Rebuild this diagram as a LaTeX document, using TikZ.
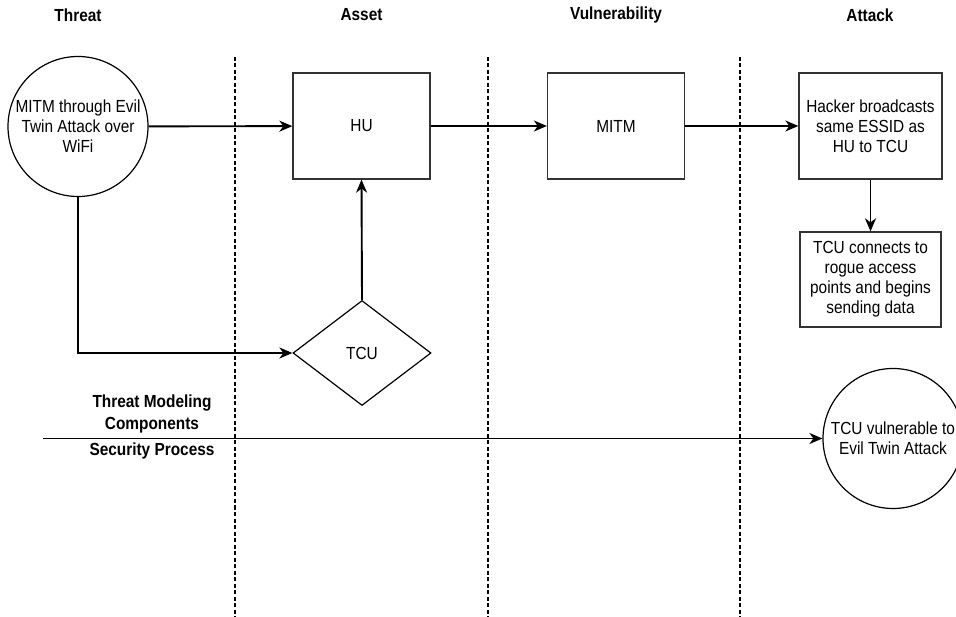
\documentclass[tikz,border=0pt]{standalone}
\usepackage{fontspec}
\setmainfont[FakeStretch=0.88]{Liberation Sans}
\usetikzlibrary{arrows.meta,shapes.geometric}

\begin{document}
\begin{tikzpicture}[x=1pt,y=-1pt,
  font=\fontsize{17.5}{20}\selectfont,
  every node/.style={align=center, inner sep=0pt},
  procbox/.style={draw=black!80, line width=1.3pt, minimum width=137pt, minimum height=106pt},
  roundnode/.style={draw, circle, line width=1.2pt, minimum size=140pt},
  decision/.style={draw, diamond, line width=1.2pt, minimum width=138pt, minimum height=105pt},
  header/.style={font=\fontsize{17.5}{20}\selectfont\bfseries},
  conn/.style={line width=1.9pt, -{Stealth[length=13pt,width=11pt,inset=4pt]}},
  lane/.style={line width=1.3pt, dash pattern=on 4pt off 2.5pt}]

\useasboundingbox (0,0) rectangle (956,617);
\clip (0,0) rectangle (956,617);

% column headings
\node[header] (hThreat) at (78,15) {Threat};
\node[header] (hAsset) at (361.5,15) {Asset};
\node[header] (hVuln) at (616,15) {Vulnerability};
\node[header] (hAttack) at (870,15) {Attack};

% lane separators
\coordinate (s1t) at (235,57);  \coordinate (s1b) at (235,617);
\coordinate (s2t) at (488,57);  \coordinate (s2b) at (488,617);
\coordinate (s3t) at (740,57);  \coordinate (s3b) at (740,617);
\draw[lane] (s1t) -- (s1b);
\draw[lane] (s2t) -- (s2b);
\draw[lane] (s3t) -- (s3b);

% process nodes
\node[roundnode] (threat) at (78,126.5) {MITM through Evil\\Twin Attack over\\WiFi};
\node[procbox] (hu) at (361.5,126) {HU};
\node[procbox] (mitm) at (616,126) {MITM};
\node[procbox, minimum width=143pt] (hack) at (870.5,126) {Hacker broadcasts\\same ESSID as\\HU to TCU};
\node[procbox, minimum width=141pt, minimum height=95pt] (rogue) at (870.5,279.5)
  {TCU connects to\\rogue access\\points and begins\\sending data};
\node[decision] (tcu) at (362,353) {TCU};
\node[roundnode] (result) at (893,438.5) {TCU vulnerable to\\Evil Twin Attack};

% process labels
\node[header, font=\fontsize{17.5}{22}\selectfont\bfseries] (tmc) at (152,414) {Threat Modeling\\Components};
\node[header] (sec) at (152,451) {Security Process};
\coordinate (procStart) at (43,438.5);

% connectors
\draw[conn] (threat) -- (hu);
\draw[conn] (hu) -- (mitm);
\draw[conn] (mitm) -- (hack);
\draw[conn] (hack) -- (rogue);
\draw[conn] (threat.south) |- (tcu.west);
\draw[conn] (tcu.north) -- (hu.south);
\draw[conn] (procStart) -- (result.west);
\end{tikzpicture}
\end{document}
